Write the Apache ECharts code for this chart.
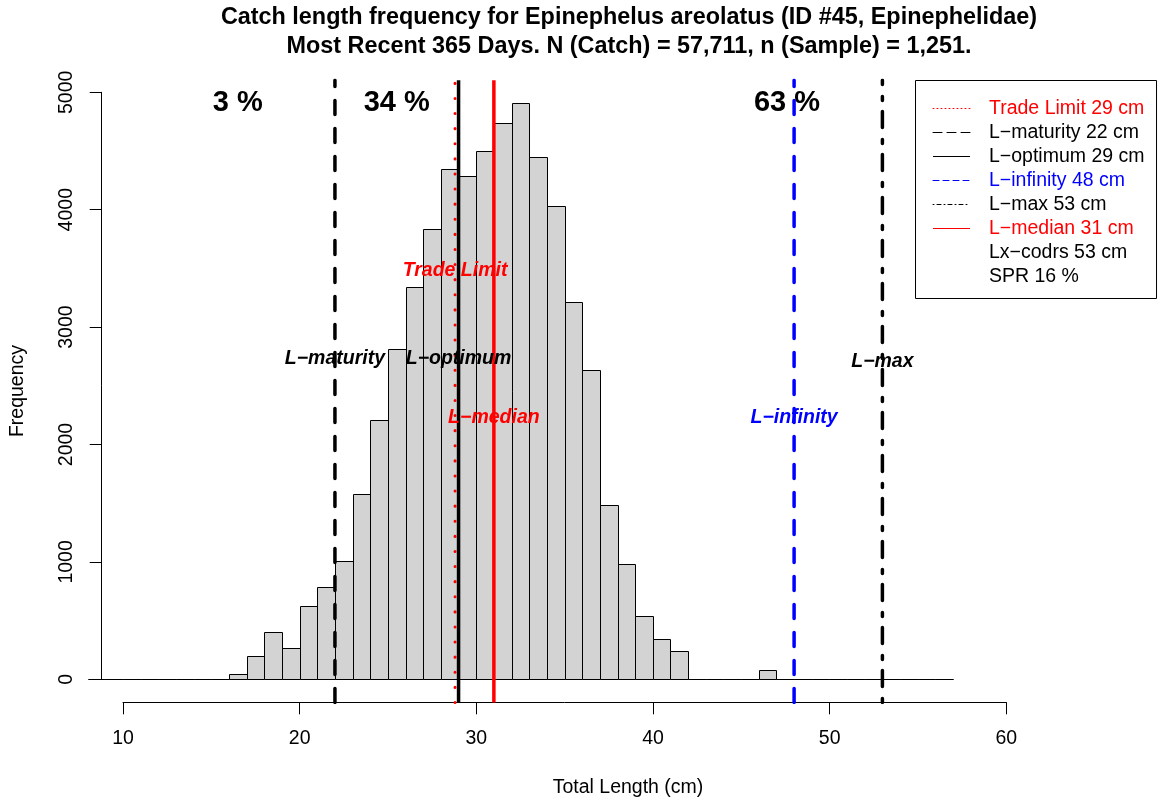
<!DOCTYPE html>
<html>
<head>
<meta charset="utf-8">
<title>Catch length frequency</title>
<script src="https://cdn.jsdelivr.net/npm/echarts@6/dist/echarts.min.js"></script>
<style>
  html, body { margin: 0; padding: 0; background: #fff; }
  #main { width: 1161px; height: 803px; }
</style>
</head>
<body>
<div id="main"></div>
<script>
// histogram breaks (cm) and counts per 1 cm bin
var breaks = [8, 9, 10, 11, 12, 13, 14, 15, 16, 17, 18, 19, 20, 21, 22, 23, 24, 25, 26, 27, 28, 29, 30, 31, 32,
              33, 34, 35, 36, 37, 38, 39, 40, 41, 42, 43, 44, 45, 46, 47, 48, 49, 50, 51, 52, 53, 54, 55, 56, 57];
var counts = [0, 0, 0, 0, 0, 0, 0, 0,
              43, 192, 398, 262, 621, 787, 1006, 1573, 2210, 2811, 3336, 3833, 4341,
              4281, 4500, 4733, 4905, 4447, 4026, 3213, 2629, 1480, 976, 538, 342, 242,
              0, 0, 0, 0, 77,
              0, 0, 0, 0, 0, 0, 0, 0, 0, 0];

// reference lengths (cm)
var refNames  = ['Trade Limit 29 cm', 'L\u2212maturity 22 cm', 'L\u2212optimum 29 cm', 'L\u2212infinity 48 cm', 'L\u2212max 53 cm', 'L\u2212median 31 cm'];
var refValues = [28.8, 22, 29, 48, 53, 31];
var refLabels = ['Trade Limit', 'L\u2212maturity', 'L\u2212optimum', 'L\u2212infinity', 'L\u2212max', 'L\u2212median'];
var refLabelHeights = [3480, 2730, 2730, 2230, 2700, 2230];
var noteNames = ['Lx\u2212codrs 53 cm', 'SPR 16 %'];

// share of catch in each length class
var shareLabels = ['3 %', '34 %', '63 %'];
var shareX = [16.5, 25.5, 47.6];
var shareY = 4905;

var FONT = 'Liberation Sans, Arial, Helvetica, sans-serif';
var Y_LO = -200, Y_HI = 5100;
var CLEAR = 'rgba(0,0,0,0)';

// line look for each reference (big = plot, small = legend key)
var refStyles = [
  { color: '#ff0000', width: 3, type: [0.1, 15], cap: 'round', small: [1, 3] },
  { color: '#000000', width: 3.5, type: [14, 14], cap: 'round', small: [9, 5] },
  { color: '#000000', width: 3.5, type: 'solid', cap: 'butt', small: 'solid' },
  { color: '#0000ff', width: 3.5, type: [14, 14], cap: 'round', small: [6, 4] },
  { color: '#000000', width: 3.5, type: [4, 12, 16, 11], cap: 'round', small: [1, 3, 4, 3] },
  { color: '#ff0000', width: 3.5, type: 'solid', cap: 'butt', small: 'solid' }
];

var binData = [];
for (var i = 0; i < counts.length; i++) {
  binData.push([breaks[i], breaks[i + 1], counts[i]]);
}

function renderBar(params, api) {
  var p0 = api.coord([api.value(0), api.value(2)]);
  var p1 = api.coord([api.value(1), 0]);
  var x0 = Math.round(p0[0]) + 0.5, x1 = Math.round(p1[0]) + 0.5;
  var y0 = Math.round(p0[1]) + 0.5, y1 = Math.round(p1[1]) + 0.5;
  return {
    type: 'rect',
    shape: { x: x0, y: y0, width: x1 - x0, height: y1 - y0 },
    style: { fill: '#d3d3d3', stroke: '#000', lineWidth: 1 }
  };
}

var series = [{
  type: 'custom',
  name: 'hist',
  xAxisIndex: 0, yAxisIndex: 0,
  renderItem: renderBar,
  encode: { x: [0, 1], y: 2 },
  clip: false,
  silent: true,
  z: 2,
  data: binData
}];

var legendData = [];
for (var k = 0; k < refValues.length; k++) {
  var st = refStyles[k];
  series.push({
    type: 'line',
    name: refNames[k],
    xAxisIndex: 0, yAxisIndex: 0,
    symbol: 'none',
    silent: true,
    z: 3,
    lineStyle: { color: st.color, width: st.width, type: st.type, cap: st.cap },
    itemStyle: { color: st.color },
    data: [[refValues[k], Y_LO], [refValues[k], Y_HI]]
  });
  legendData.push({
    name: refNames[k],
    textStyle: { color: st.color },
    itemStyle: { color: CLEAR, borderColor: CLEAR, borderWidth: 0 },
    lineStyle: { width: 1, type: st.small, color: st.color, opacity: 1 }
  });
}
noteNames.forEach(function (n) {
  series.push({
    type: 'line', name: n, xAxisIndex: 0, yAxisIndex: 0, symbol: 'none',
    lineStyle: { color: CLEAR }, itemStyle: { color: CLEAR }, data: []
  });
  legendData.push({
    name: n, textStyle: { color: '#000' },
    itemStyle: { color: CLEAR, borderColor: CLEAR, borderWidth: 0 },
    lineStyle: { width: 0, color: CLEAR }
  });
});

// italic labels on the reference lines
series.push({
  type: 'scatter',
  xAxisIndex: 0, yAxisIndex: 0,
  symbolSize: 1,
  silent: true,
  z: 5,
  itemStyle: { color: CLEAR, opacity: 1 },
  label: {
    show: true, position: 'inside', formatter: '{b}',
    fontFamily: FONT, fontSize: 19.5, fontStyle: 'italic', fontWeight: 'bold'
  },
  data: refLabels.map(function (t, j) {
    return { name: t, value: [refValues[j], refLabelHeights[j]], label: { color: refStyles[j].color } };
  })
});

// percentage of catch in each class
series.push({
  type: 'scatter',
  xAxisIndex: 0, yAxisIndex: 0,
  symbolSize: 1,
  silent: true,
  z: 5,
  itemStyle: { color: CLEAR, opacity: 1 },
  label: {
    show: true, position: 'inside', formatter: '{b}', color: '#000',
    fontFamily: FONT, fontSize: 29, fontWeight: 'bold'
  },
  data: shareLabels.map(function (t, j) {
    return { name: t, value: [shareX[j], shareY] };
  })
});

var chart = echarts.init(document.getElementById('main'), null, { renderer: 'canvas' });
chart.setOption({
  animation: false,
  backgroundColor: '#fff',
  textStyle: { fontFamily: FONT, color: '#000' },
  title: {
    text: 'Catch length frequency for Epinephelus areolatus (ID #45, Epinephelidae)\nMost Recent 365 Days. N (Catch) = 57,711, n (Sample) = 1,251.',
    left: 629, top: 3.5, textAlign: 'center', padding: 0,
    textStyle: { fontFamily: FONT, fontSize: 23.4, fontWeight: 'bold', color: '#000', lineHeight: 29 }
  },
  legend: {
    orient: 'vertical',
    left: 915.5, top: 80.5,
    padding: [16, 12, 10, 17],
    itemGap: 0,
    itemWidth: 37, itemHeight: 14,
    borderColor: '#000', borderWidth: 1, borderRadius: 0,
    selectedMode: false,
    textStyle: { fontFamily: FONT, fontSize: 19.5, lineHeight: 24, padding: [0, 0, 0, 14] },
    data: legendData
  },
  grid: [
    { left: 87.7, right: 13.7, top: 80.3, bottom: 100.5, outerBoundsMode: 'none', containLabel: false },
    { left: 123, right: 154.7, top: 92.3, bottom: 123.7, outerBoundsMode: 'none', containLabel: false }
  ],
  xAxis: [
    { type: 'value', gridIndex: 0, min: 8, max: 68, show: false },
    {
      type: 'value', gridIndex: 1, min: 10, max: 60, interval: 10, offset: 23, position: 'bottom',
      axisLine: { show: true, onZero: false, lineStyle: { color: '#000', width: 1 } },
      axisTick: { show: true, length: 12, lineStyle: { color: '#000', width: 1 } },
      axisLabel: { fontFamily: FONT, fontSize: 19.5, color: '#000', margin: 26, formatter: function (v) { return String(v); } },
      splitLine: { show: false }
    }
  ],
  yAxis: [
    { type: 'value', gridIndex: 0, min: Y_LO, max: Y_HI, show: false },
    {
      type: 'value', gridIndex: 1, min: 0, max: 5000, interval: 1000, offset: 21.3, position: 'left',
      axisLine: { show: true, onZero: false, lineStyle: { color: '#000', width: 1 } },
      axisTick: { show: true, length: 12, lineStyle: { color: '#000', width: 1 } },
      axisLabel: { fontFamily: FONT, fontSize: 19.5, color: '#000', margin: 25, rotate: 90, formatter: function (v) { return String(v); } },
      splitLine: { show: false }
    }
  ],
  graphic: [
    {
      type: 'text', x: 628, y: 788,
      style: { text: 'Total Length (cm)', font: '19.5px ' + FONT, fill: '#000', align: 'center', verticalAlign: 'middle' }
    },
    {
      type: 'text', x: 18, y: 391, rotation: Math.PI / 2,
      style: { text: 'Frequency', font: '19.5px ' + FONT, fill: '#000', align: 'center', verticalAlign: 'middle' }
    }
  ],
  series: series
});
</script>
</body>
</html>
